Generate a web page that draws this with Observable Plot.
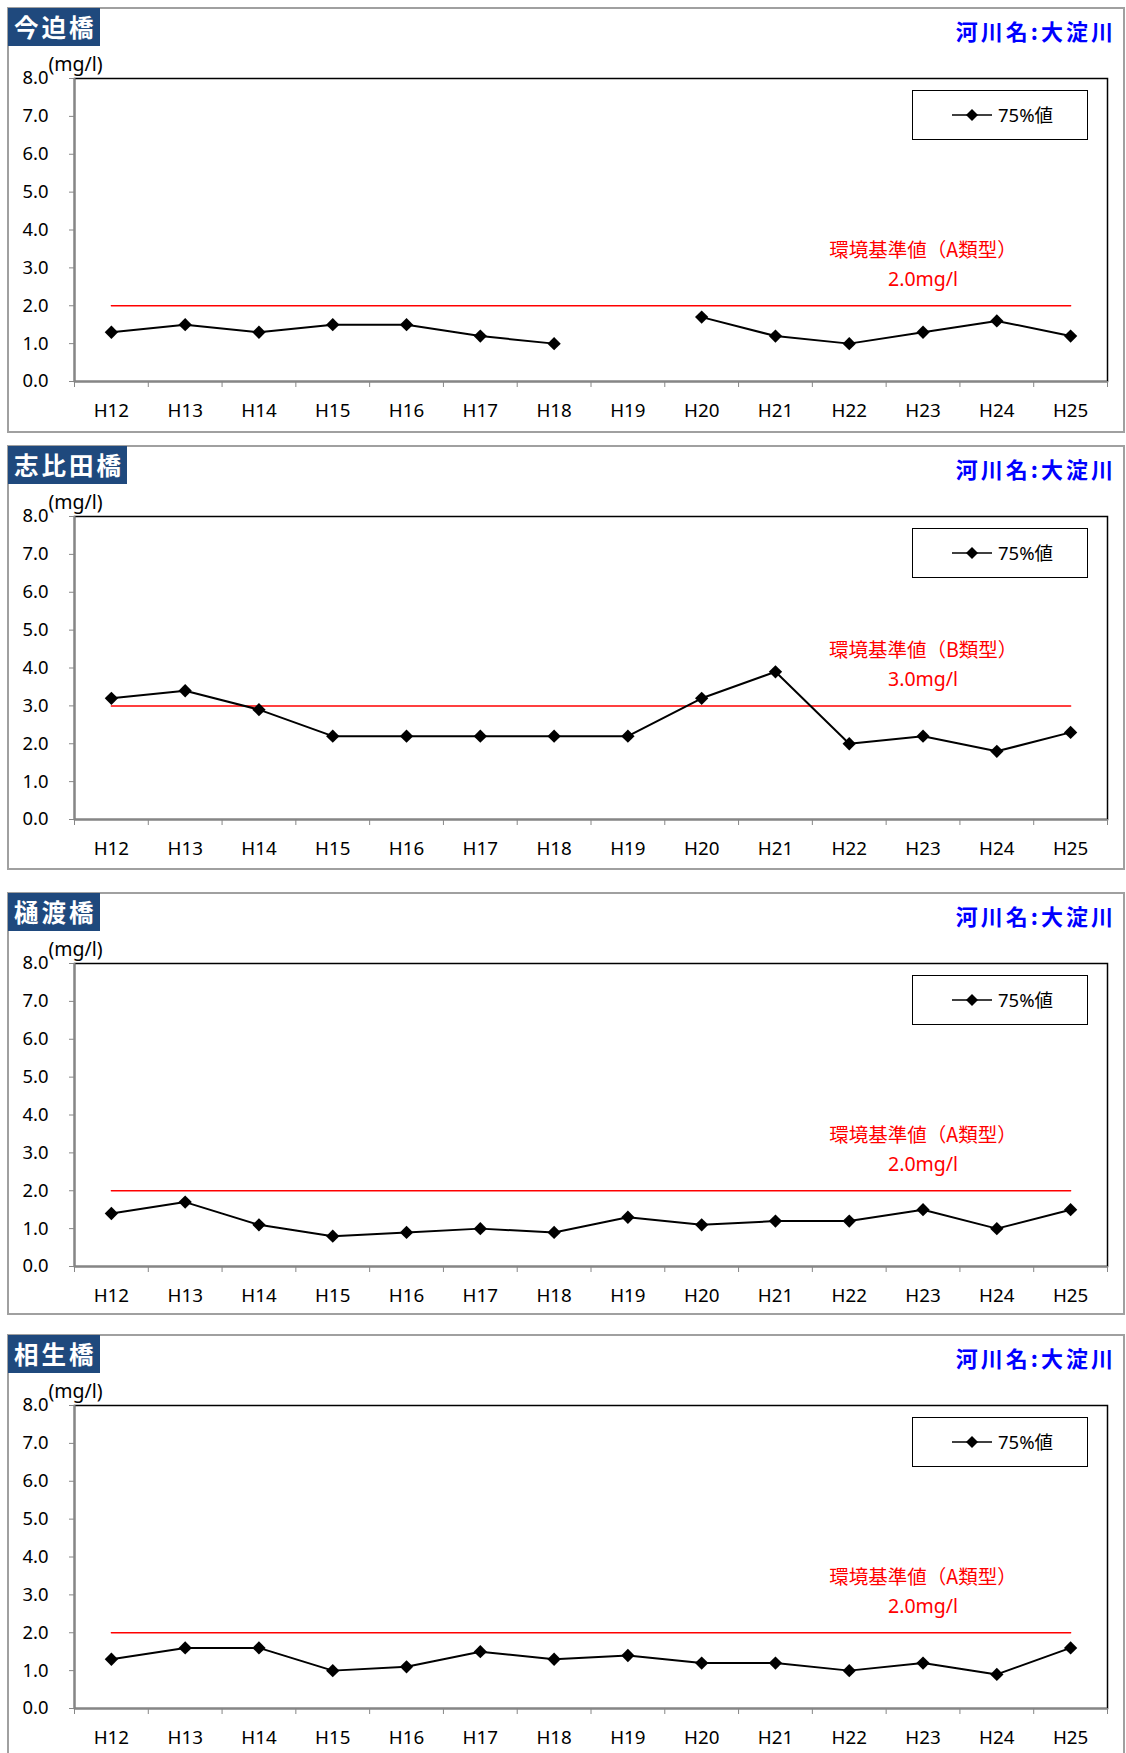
<!DOCTYPE html>
<html>
<head>
<meta charset="utf-8">
<script src="https://cdn.jsdelivr.net/npm/d3@7"></script>
<script src="https://cdn.jsdelivr.net/npm/@observablehq/plot@0.6"></script>
<style>
html,body{margin:0;padding:0;background:#fff;}
body{width:1126px;height:1753px;overflow:hidden;position:relative;font-family:"Noto Sans","Noto Sans CJK JP",sans-serif;}
.panel{position:absolute;left:7px;width:1118px;box-sizing:border-box;border:2px solid #a0a0a0;}
.title{position:absolute;left:8px;height:38px;line-height:38px;padding:0 3px 0 6px;background:#1F497D;color:#fff;font-family:"Noto Sans CJK JP",sans-serif;font-weight:bold;font-size:24.5px;letter-spacing:3px;}
.river{position:absolute;right:10px;line-height:26px;color:#0000ff;font-family:"Noto Sans CJK JP",sans-serif;font-weight:bold;font-size:22px;letter-spacing:3px;}
.legend{position:absolute;left:912px;width:176px;height:50px;box-sizing:border-box;border:1.5px solid #000;background:#fff;}
.legend svg{position:absolute;left:38px;top:13px;}
.legend span{position:absolute;left:85px;top:0;line-height:47px;font-size:18.5px;font-family:"Noto Sans","Noto Sans CJK JP",sans-serif;}
</style>
</head>
<body>
<script>
// ---- data ----
const years = ["H12","H13","H14","H15","H16","H17","H18","H19","H20","H21","H22","H23","H24","H25"];
const stations = ["今迫橋","志比田橋","樋渡橋","相生橋"];
const riverName = "河川名:大淀川";
const imasako   = [1.3,1.5,1.3,1.5,1.5,1.2,1.0,null,1.7,1.2,1.0,1.3,1.6,1.2];
const shibita   = [3.2,3.4,2.9,2.2,2.2,2.2,2.2,2.2,3.2,3.9,2.0,2.2,1.8,2.3];
const hiwatashi = [1.4,1.7,1.1,0.8,0.9,1.0,0.9,1.3,1.1,1.2,1.2,1.5,1.0,1.5];
const aioi      = [1.3,1.6,1.6,1.0,1.1,1.5,1.3,1.4,1.2,1.2,1.0,1.2,0.9,1.6];
const seriesValues = [imasako, shibita, hiwatashi, aioi];
const standardValues = [2.0, 3.0, 2.0, 2.0];
const standardTypes = ["A","B","A","A"];
const yTicks = [0,1,2,3,4,5,6,7,8];
const legendLabel = "75%値";
const unitLabel = "(mg/l)";

// ---- layout ----
const panelTops = [7, 445, 892, 1334];
const panelHeights = [426, 425, 423, 425];
const FONT = '"Noto Sans","Noto Sans CJK JP",sans-serif';

stations.forEach((name, k) => {
  const T = panelTops[k];
  const panel = document.createElement("div");
  panel.className = "panel";
  panel.style.top = T + "px";
  panel.style.height = panelHeights[k] + "px";
  document.body.appendChild(panel);

  const values = seriesValues[k];
  const data = values.map((v, i) => ({x: i + 0.5, y: v, year: years[i]}));
  const std = standardValues[k];
  const stdData = years.map((y, i) => ({x: i + 0.5, y: std}));

  const chart = Plot.plot({
    width: 1126,
    height: 425,
    marginLeft: 74,
    marginRight: 19,
    marginTop: 71,
    marginBottom: 51,
    x: {domain: [0, years.length], label: null},
    y: {domain: [0, 8], label: null},
    style: {fontFamily: FONT, fontSize: "18.4px", background: "transparent", overflow: "visible", color: "black"},
    marks: [
      Plot.frame({stroke: "#000", strokeWidth: 1.5}),
      Plot.ruleX([0], {stroke: "#868686", strokeWidth: 2}),
      Plot.ruleY([0], {stroke: "#868686", strokeWidth: 2}),
      Plot.axisY({ticks: yTicks, tickSize: 5, tickPadding: 21, tickFormat: d3.format(".1f"), stroke: "#868686", fill: "black", fontSize: 18.4, label: null}),
      Plot.axisX({ticks: d3.range(0, years.length + 1), tickSize: 6, tickFormat: () => "", stroke: "#868686", label: null}),
      Plot.axisX({ticks: years.map((_, i) => i + 0.5), tickSize: 0, tickPadding: 22, tickFormat: t => years[Math.round(t - 0.5)], fill: "black", fontSize: 18.8, label: null}),
      Plot.text([unitLabel], {frameAnchor: "top-left", dx: -26, dy: -14, textAnchor: "start", lineAnchor: "middle", fontSize: 19.5, fill: "black"}),
      Plot.line(stdData, {x: "x", y: "y", stroke: "#ff0000", strokeWidth: 1.5}),
      Plot.text([`環境基準値（${standardTypes[k]}類型）`], {x: 11.5, y: std, dy: -55, fill: "#ff0000", fontSize: 19.5, fontFamily: '"Noto Sans CJK JP",sans-serif'}),
      Plot.text([`${std.toFixed(1)}mg/l`], {x: 11.5, y: std, dy: -26, fill: "#ff0000", fontSize: 19.5}),
      Plot.line(data, {x: "x", y: "y", stroke: "black", strokeWidth: 2}),
      Plot.dot(data.filter(d => d.y != null), {x: "x", y: "y", symbol: "diamond2", r: 6, fill: "black", stroke: "none"})
    ]
  });
  chart.style.position = "absolute";
  chart.style.left = "0px";
  chart.style.top = T + "px";
  document.body.appendChild(chart);

  const title = document.createElement("div");
  title.className = "title";
  title.style.top = (T + 1) + "px";
  title.textContent = name;
  document.body.appendChild(title);

  const river = document.createElement("div");
  river.className = "river";
  river.style.top = (T + 10) + "px";
  river.textContent = riverName;
  document.body.appendChild(river);

  const legend = document.createElement("div");
  legend.className = "legend";
  legend.style.top = (T + 83) + "px";
  legend.innerHTML = `<svg width="44" height="22" viewBox="0 0 44 22"><line x1="1" y1="11" x2="41" y2="11" stroke="black" stroke-width="1.5"/><polygon points="21,5 27,11 21,17 15,11" fill="black"/></svg><span>${legendLabel}</span>`;
  document.body.appendChild(legend);
});
</script>
</body>
</html>
